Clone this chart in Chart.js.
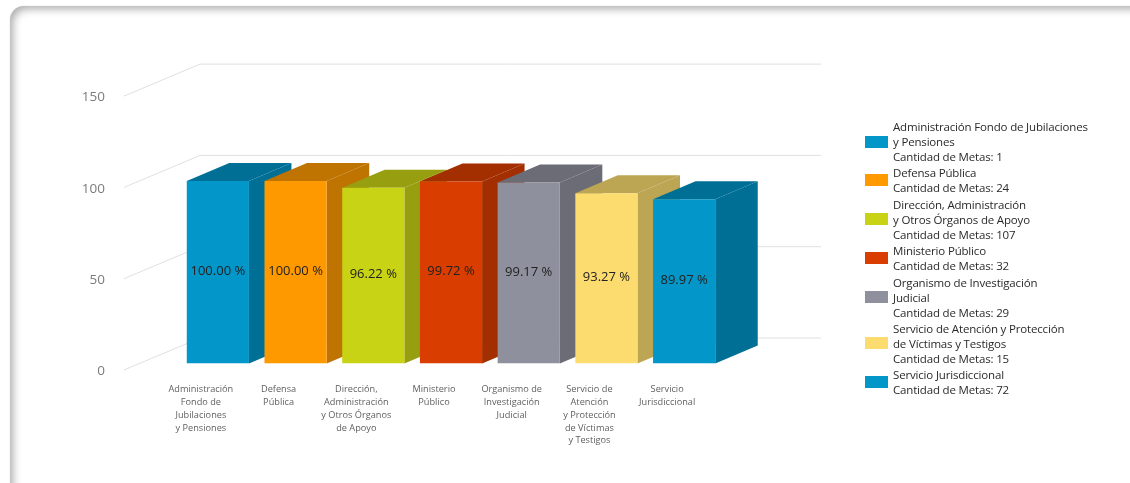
<!DOCTYPE html>
<html lang="es">
<head>
<meta charset="utf-8">
<title>Cumplimiento de metas</title>
<script src="https://cdn.jsdelivr.net/npm/chart.js@4/dist/chart.umd.min.js"></script>
<style>
  html, body { margin: 0; padding: 0; background: #fff; overflow: hidden; }
  #lienzo { position: relative; width: 1130px; height: 483px; overflow: hidden; }
  #marco { position: absolute; left: 10px; top: 6px; width: 1300px; height: 700px; border-radius: 14px;
           box-shadow: inset 3px 3px 8px rgba(0,0,0,.33), 0 0 2px rgba(0,0,0,.12); }
  canvas { position: absolute; left: 0; top: 0; }
  #leyenda { position: absolute; left: 865px; top: 119px; font: 11.5px/15px "Open Sans", sans-serif;
             letter-spacing: -0.17px; color: #2a2a2a; }
  .item { display: flex; align-items: center; margin-bottom: 1.4px; white-space: nowrap; }
  .caja { width: 23px; height: 12px; margin-right: 5px; flex: none; }
</style>
</head>
<body>
<div id="lienzo">
  <div id="marco"></div>
  <canvas id="grafica" width="1130" height="483"></canvas>
  <div id="leyenda"></div>
</div>
<script>
/* Cumplimiento por unidad: barras "3D" dibujadas sobre las escalas de Chart.js */
const categorias = [
  ['Administración', 'Fondo de', 'Jubilaciones', 'y Pensiones'],
  ['Defensa', 'Pública'],
  ['Dirección,', 'Administración', 'y Otros Órganos', 'de Apoyo'],
  ['Ministerio', 'Público'],
  ['Organismo de', 'Investigación', 'Judicial'],
  ['Servicio de', 'Atención', 'y Protección', 'de Víctimas', 'y Testigos'],
  ['Servicio', 'Jurisdiccional']
];
const porcentajes = [100, 100, 96.22, 99.72, 99.17, 93.27, 89.97];
const etiquetas = ['100.00 %', '100.00 %', '96.22 %', '99.72 %', '99.17 %', '93.27 %', '89.97 %'];
const ticksY = [0, 50, 100, 150];
const nombresLeyenda = [
  ['Administración Fondo de Jubilaciones', 'y Pensiones'],
  ['Defensa Pública'],
  ['Dirección, Administración', 'y Otros Órganos de Apoyo'],
  ['Ministerio Público'],
  ['Organismo de Investigación', 'Judicial'],
  ['Servicio de Atención y Protección', 'de Víctimas y Testigos'],
  ['Servicio Jurisdiccional']
];
const cantidadMetas = [1, 24, 107, 32, 29, 15, 72];
const colores = ['#0396C9', '#FF9900', '#C9D315', '#D93D00', '#8F909E', '#FDDC6F', '#0396C9'];
const coloresLado = ['#006F96', '#BF7300', '#979E10', '#A32E00', '#6B6C76', '#BDA653', '#006F96'];

// profundidad de barras y de la rejilla
const BARRA_DX = 42.5, BARRA_DY = 18;
const REJILLA = { izq: 124, fondo: 200, der: 821, bajaFrente: 6.5, subeFondo: 25.5 };

const rejilla3d = {
  id: 'rejilla3d',
  beforeDatasetsDraw(chart) {
    const { ctx, scales: { y } } = chart;
    ctx.save();
    ctx.strokeStyle = '#E0E0E0';
    ctx.lineWidth = 1;
    ticksY.forEach(v => {
      const p = y.getPixelForValue(v);
      ctx.beginPath();
      ctx.moveTo(REJILLA.izq, p + REJILLA.bajaFrente);
      ctx.lineTo(REJILLA.fondo, p - REJILLA.subeFondo);
      ctx.lineTo(REJILLA.der, p - REJILLA.subeFondo);
      ctx.stroke();
    });
    ctx.restore();
  }
};

const caras3d = {
  id: 'caras3d',
  beforeDatasetsDraw(chart) {
    const { ctx } = chart;
    ctx.save();
    chart.getDatasetMeta(0).data.forEach((bar, i) => {
      const l = bar.x - bar.width / 2, r = bar.x + bar.width / 2;
      ctx.fillStyle = coloresLado[i];
      // lado
      ctx.beginPath();
      ctx.moveTo(r, bar.base);
      ctx.lineTo(r + BARRA_DX, bar.base - BARRA_DY);
      ctx.lineTo(r + BARRA_DX, bar.y - BARRA_DY);
      ctx.lineTo(r, bar.y);
      ctx.closePath();
      ctx.fill();
      // tapa
      ctx.beginPath();
      ctx.moveTo(l, bar.y);
      ctx.lineTo(l + BARRA_DX, bar.y - BARRA_DY);
      ctx.lineTo(r + BARRA_DX, bar.y - BARRA_DY);
      ctx.lineTo(r, bar.y);
      ctx.closePath();
      ctx.fill();
    });
    ctx.restore();
  }
};

const textoBarras = {
  id: 'textoBarras',
  afterDatasetsDraw(chart) {
    const { ctx } = chart;
    ctx.save();
    ctx.font = '13px "Open Sans", sans-serif';
    ctx.fillStyle = '#222';
    ctx.textAlign = 'center';
    ctx.textBaseline = 'middle';
    chart.getDatasetMeta(0).data.forEach((bar, i) => {
      ctx.fillText(etiquetas[i], bar.x, (bar.y + bar.base) / 2 - 1);
    });
    ctx.restore();
  }
};

new Chart(document.getElementById('grafica').getContext('2d'), {
  type: 'bar',
  data: {
    labels: categorias,
    datasets: [{ data: porcentajes, backgroundColor: colores, borderWidth: 0, barPercentage: 0.8, categoryPercentage: 1 }]
  },
  plugins: [rejilla3d, caras3d, textoBarras],
  options: {
    responsive: false,
    animation: false,
    layout: { padding: { left: 0, right: 407, top: 89.6, bottom: 0 } },
    plugins: { legend: { display: false }, tooltip: { enabled: false } },
    scales: {
      y: {
        min: 0, max: 150,
        afterFit: (s) => { s.width = 179; },
        afterBuildTicks: (s) => { s.ticks = ticksY.map(value => ({ value })); },
        grid: { display: false, drawTicks: false },
        border: { display: false },
        ticks: { padding: 74, labelOffset: 8, color: '#7c7c7c', font: { family: 'Open Sans', size: 13.5 } }
      },
      x: {
        afterFit: (s) => { s.height = 119.5; },
        grid: { display: false, drawTicks: false },
        border: { display: false },
        ticks: { padding: 19, labelOffset: -17, maxRotation: 0, autoSkip: false, color: '#5f5f5f',
                 font: { family: 'Open Sans', size: 9.2, lineHeight: 1.41 } }
      }
    }
  }
});

// leyenda en HTML, con las mismas listas
const leyenda = document.getElementById('leyenda');
nombresLeyenda.forEach((lineas, i) => {
  const item = document.createElement('div');
  item.className = 'item';
  item.innerHTML = `<span class="caja" style="background:${colores[i]}"></span>
    <span>${lineas.join('<br>')}<br>Cantidad de Metas: ${cantidadMetas[i]}</span>`;
  leyenda.appendChild(item);
});
</script>
</body>
</html>
